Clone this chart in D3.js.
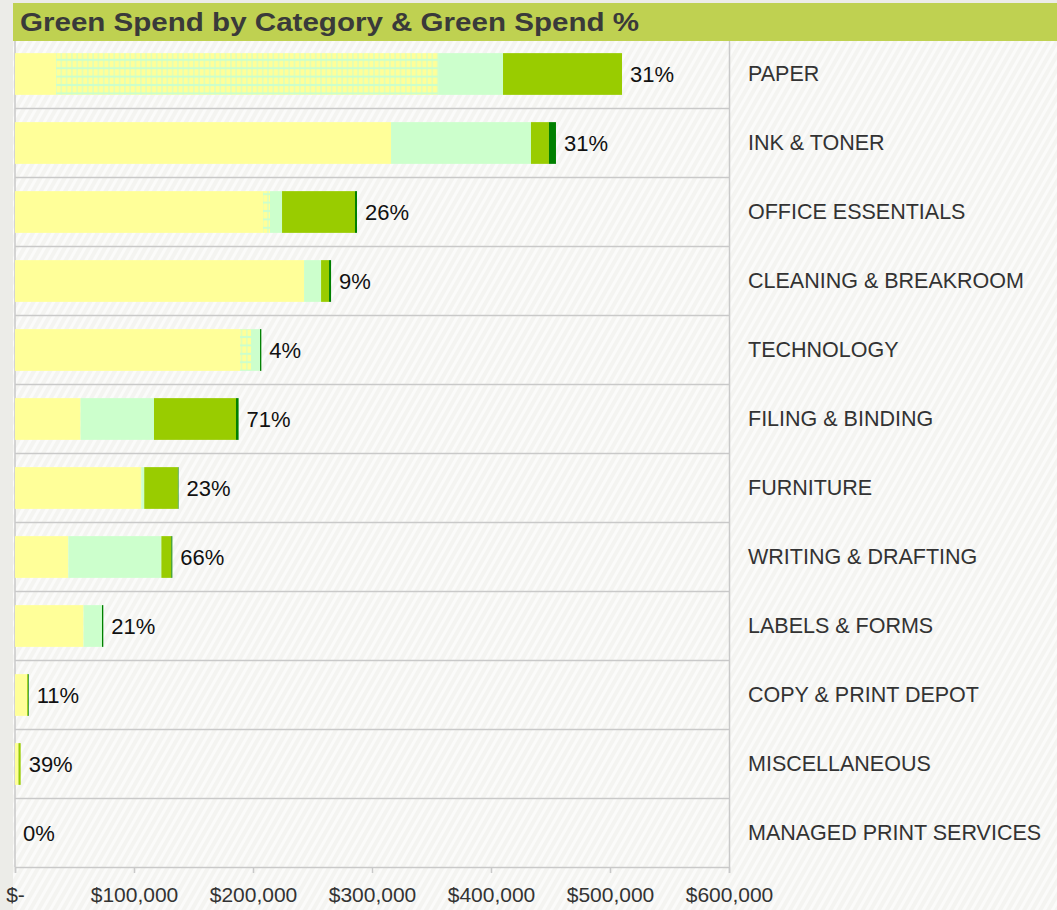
<!DOCTYPE html>
<html>
<head>
<meta charset="utf-8">
<script src="https://cdn.jsdelivr.net/npm/d3@7"></script>
<style>
  body { margin: 0; background: #ecece8; }
  svg { display: block; }
</style>
</head>
<body>
<div id="chart"></div>
<script>
var categories = ["PAPER", "INK & TONER", "OFFICE ESSENTIALS", "CLEANING & BREAKROOM",
  "TECHNOLOGY", "FILING & BINDING", "FURNITURE", "WRITING & DRAFTING",
  "LABELS & FORMS", "COPY & PRINT DEPOT", "MISCELLANEOUS", "MANAGED PRINT SERVICES"];

// spend per segment, $
var nonGreen    = [34500, 316000, 208400, 242900, 189100, 55100, 106100, 44800, 57600, 10200, 2900, 0];
var nonGreenAlt = [321000, 0, 5900, 0, 9200, 0, 0, 0, 0, 0, 0, 0];
var greenLight  = [54600, 117600, 10100, 14300, 7600, 61700, 2500, 78200, 15500, 0, 0, 0];
var greenMid    = [100000, 15100, 61300, 6700, 0, 68900, 28300, 8400, 0, 700, 1850, 0];
var greenDark   = [0, 5900, 1700, 1700, 1100, 2200, 500, 800, 1100, 600, 0, 0];

var greenPct = [31, 31, 26, 9, 4, 71, 23, 66, 21, 11, 39, 0];

var xTicks = [0, 100000, 200000, 300000, 400000, 500000, 600000];

var seriesKeys = ["nonGreen", "nonGreenAlt", "greenLight", "greenMid", "greenDark"];
var seriesFill = {
  nonGreen: "#ffff99",
  nonGreenAlt: "url(#checker)",
  greenLight: "#ccffcc",
  greenMid: "#99cc00",
  greenDark: "#008000"
};

var svgWidth = 1057;
var svgHeight = 910;

var plot = { left: 15, right: 729, top: 39, bottom: 867 };

var table = categories.map(function(c, i) {
  return {
    category: c,
    nonGreen: nonGreen[i],
    nonGreenAlt: nonGreenAlt[i],
    greenLight: greenLight[i],
    greenMid: greenMid[i],
    greenDark: greenDark[i],
    pct: greenPct[i]
  };
});

var svg = d3.select("#chart")
  .append("svg")
  .attr("width", svgWidth)
  .attr("height", svgHeight);

var defs = svg.append("defs");

// faint diagonal background stripes
var stripes = defs.append("pattern")
  .attr("id", "stripes")
  .attr("patternUnits", "userSpaceOnUse")
  .attr("width", 7)
  .attr("height", 7)
  .attr("patternTransform", "rotate(30)");
stripes.append("rect").attr("width", 7).attr("height", 7).attr("fill", "#f4f4f1");
stripes.append("rect").attr("width", 3).attr("height", 7).attr("fill", "#fbfbfa");

// yellow squares on light green grid
var checker = defs.append("pattern")
  .attr("id", "checker")
  .attr("patternUnits", "userSpaceOnUse")
  .attr("x", 56)
  .attr("y", 1)
  .attr("width", 5.3)
  .attr("height", 8.4);
checker.append("rect").attr("width", 5.3).attr("height", 8.4).attr("fill", "#ccffcc");
checker.append("rect").attr("x", 0.5).attr("y", 1).attr("width", 4.3).attr("height", 6.4).attr("fill", "#ffff99");

svg.append("rect")
  .attr("x", 13).attr("y", 40)
  .attr("width", svgWidth - 13).attr("height", svgHeight - 40)
  .attr("fill", "url(#stripes)");

// title bar
svg.append("rect")
  .attr("x", 13).attr("y", 3)
  .attr("width", svgWidth - 13).attr("height", 38)
  .attr("fill", "#bfd151");

svg.append("text")
  .attr("x", 20)
  .attr("y", 31)
  .attr("font-family", "Liberation Sans, Arial, sans-serif")
  .attr("font-weight", "bold")
  .attr("font-size", 26)
  .attr("fill", "#3a3a3a")
  .attr("textLength", 619)
  .attr("lengthAdjust", "spacingAndGlyphs")
  .text("Green Spend by Category & Green Spend %");

var x = d3.scaleLinear()
  .domain([0, 600000])
  .range([plot.left, plot.right]);

var y = d3.scaleBand()
  .domain(categories)
  .range([plot.top, plot.bottom])
  .padding(0);

var barH = y.bandwidth() * 0.605;

// row separators + plot frame
svg.append("g")
  .selectAll("line")
  .data(categories.slice(1))
  .enter()
  .append("line")
  .attr("x1", plot.left)
  .attr("x2", plot.right)
  .attr("y1", d => y(d) + 0.5)
  .attr("y2", d => y(d) + 0.5)
  .attr("stroke", "#c9c9c9")
  .attr("stroke-width", 1.5);

svg.append("line")
  .attr("x1", plot.right + 0.5).attr("x2", plot.right + 0.5)
  .attr("y1", 41).attr("y2", plot.bottom)
  .attr("stroke", "#c9c9c9").attr("stroke-width", 1.5);

svg.append("line")
  .attr("x1", plot.left).attr("x2", plot.left)
  .attr("y1", 41).attr("y2", plot.bottom)
  .attr("stroke", "#c9c9c9").attr("stroke-width", 1.5);

// stacked bars
var stack = d3.stack().keys(seriesKeys);
var layers = stack(table);

svg.append("g")
  .selectAll("g")
  .data(layers)
  .enter()
  .append("g")
  .attr("fill", d => seriesFill[d.key])
  .selectAll("rect")
  .data(d => d)
  .enter()
  .append("rect")
  .attr("x", d => x(d[0]))
  .attr("y", d => y(d.data.category) + (y.bandwidth() - barH) / 2 + 0.5)
  .attr("width", d => Math.max(0, x(d[1]) - x(d[0])))
  .attr("height", barH);

// green % labels
svg.append("g")
  .selectAll("text")
  .data(table)
  .enter()
  .append("text")
  .attr("x", d => x(d.nonGreen + d.nonGreenAlt + d.greenLight + d.greenMid + d.greenDark) + 8)
  .attr("y", d => y(d.category) + y.bandwidth() / 2 + 1)
  .attr("dy", "0.35em")
  .attr("font-family", "Liberation Sans, Arial, sans-serif")
  .attr("font-size", 22)
  .attr("fill", "#111")
  .text(d => d.pct + "%");

// category labels on the right
svg.append("g")
  .selectAll("text")
  .data(categories)
  .enter()
  .append("text")
  .attr("x", 748)
  .attr("y", d => y(d) + y.bandwidth() / 2)
  .attr("dy", "0.35em")
  .attr("font-family", "Liberation Sans, Arial, sans-serif")
  .attr("font-size", 21.5)
  .attr("fill", "#333")
  .text(d => d);

// x axis
var bottomAxis = d3.axisBottom(x)
  .tickValues(xTicks)
  .tickSize(6)
  .tickPadding(14)
  .tickFormat(d => d === 0 ? "$-" : "$" + d3.format(",")(d));

var axisG = svg.append("g")
  .attr("transform", `translate(0, ${plot.bottom})`)
  .call(bottomAxis);

axisG.select(".domain").attr("stroke", "#c9c9c9").attr("stroke-width", 1.5);
axisG.selectAll(".tick line").attr("stroke", "#c9c9c9").attr("stroke-width", 1.5);
axisG.selectAll(".tick text")
  .attr("font-family", "Liberation Sans, Arial, sans-serif")
  .attr("font-size", 21)
  .attr("fill", "#333");
</script>
</body>
</html>
